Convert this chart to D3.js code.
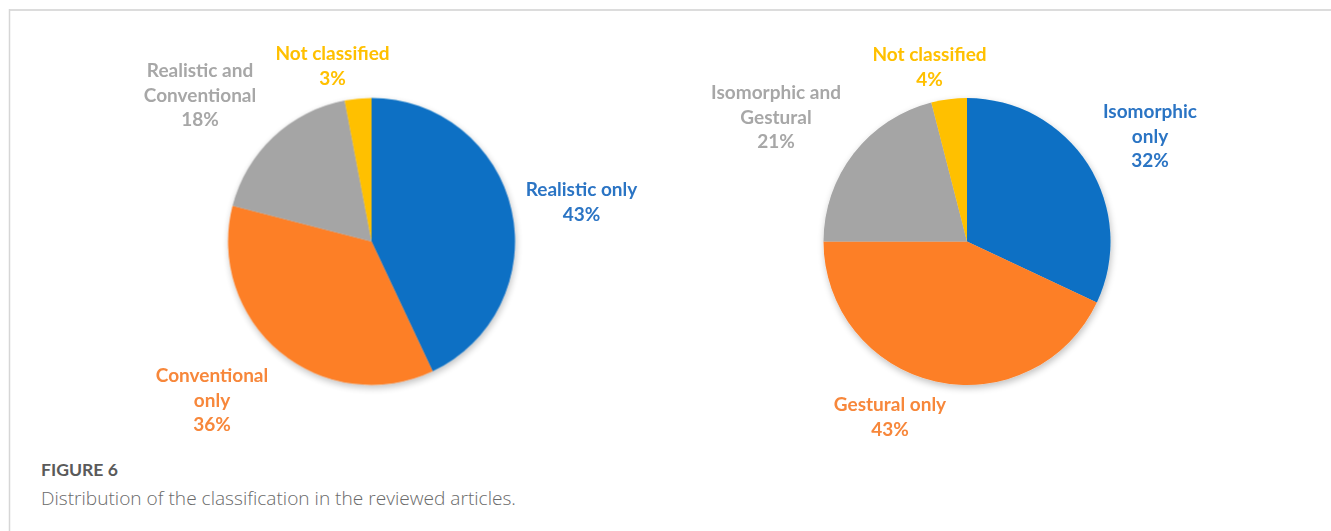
<!DOCTYPE html>
<html>
<head>
<meta charset="utf-8">
<script src="https://cdn.jsdelivr.net/npm/d3@7"></script>
<style>
  html, body { margin: 0; padding: 0; background: #ffffff; }
  svg { display: block; }
</style>
</head>
<body>
<svg id="chart" width="1331" height="531"></svg>
<script>
// Left pie: kinds of representation
const leftCategories = ["Realistic only", "Conventional only", "Realistic and Conventional", "Not classified"];
const leftValues = [43, 36, 18, 3];
const leftLabelLines = [["Realistic only"], ["Conventional", "only"], ["Realistic and", "Conventional"], ["Not classified"]];

// Right pie: kinds of interaction
const rightCategories = ["Isomorphic only", "Gestural only", "Isomorphic and Gestural", "Not classified"];
const rightValues = [32, 43, 21, 4];
const rightLabelLines = [["Isomorphic", "only"], ["Gestural only"], ["Isomorphic and", "Gestural"], ["Not classified"]];

const captionTitle = "FIGURE 6";
const captionText = "Distribution of the classification in the reviewed articles.";

// ---- styling / layout ----
const sliceColors = ["#0A70C4", "#FD7F27", "#A5A5A5", "#FFC000"];
const labelColors = ["#2C74C4", "#F7873A", "#A7A7A7", "#FFC000"];
const radius = 143.5;
const lineHeight = 24.5;
// label anchor (centre x, first baseline y) relative to each pie centre
const leftLabelOffsets = [[210, -45.5], [-159.5, 140.5], [-171.5, -164.5], [-39, -181.5]];
const rightLabelOffsets = [[183, -123.5], [-77, 169.5], [-191, -142.5], [-37.5, -180.5]];

const svg = d3.select("#chart");
const defs = svg.append("defs");

const shadow = defs.append("filter").attr("id", "pieShadow")
  .attr("x", "-20%").attr("y", "-20%").attr("width", "140%").attr("height", "140%");
shadow.append("feGaussianBlur").attr("in", "SourceAlpha").attr("stdDeviation", 3.5).attr("result", "b");
shadow.append("feOffset").attr("in", "b").attr("dx", 1).attr("dy", 3).attr("result", "o");
shadow.append("feComponentTransfer").attr("in", "o").attr("result", "s")
  .append("feFuncA").attr("type", "linear").attr("slope", 0.25);
const merge = shadow.append("feMerge");
merge.append("feMergeNode").attr("in", "s");
merge.append("feMergeNode").attr("in", "SourceGraphic");

const soft = defs.append("filter").attr("id", "soft");
soft.append("feGaussianBlur").attr("stdDeviation", 0.45);

// frame lines
svg.append("line").attr("x1", 9).attr("x2", 1331).attr("y1", 10).attr("y2", 10)
  .attr("stroke", "#dcdcdc").attr("stroke-width", 2);
svg.append("line").attr("x1", 9.5).attr("x2", 9.5).attr("y1", 9).attr("y2", 531)
  .attr("stroke", "#d6d6d6").attr("stroke-width", 1.5);

const pie = d3.pie().sort(null).value(d => d.value).startAngle(0).endAngle(2 * Math.PI);
const arc = d3.arc().innerRadius(0).outerRadius(radius);

function drawPie(cx, cy, categories, values, labelLines, offsets) {
  const data = categories.map((c, i) => ({ category: c, value: values[i], lines: labelLines[i], i }));
  const g = svg.append("g").attr("transform", `translate(${cx},${cy})`).attr("filter", "url(#soft)");

  g.append("g").attr("filter", "url(#pieShadow)")
    .selectAll("path")
    .data(pie(data))
    .join("path")
    .attr("d", arc)
    .attr("fill", d => sliceColors[d.data.i]);

  const labels = g.selectAll("text.lbl")
    .data(data)
    .join("text")
    .attr("class", "lbl")
    .attr("text-anchor", "middle")
    .attr("font-family", "Lato, 'Open Sans', sans-serif")
    .attr("font-weight", 700)
    .attr("font-size", 19)
    .attr("fill", d => labelColors[d.i])
    .attr("transform", d => `translate(${offsets[d.i][0]},${offsets[d.i][1]})`);

  labels.each(function (d) {
    const t = d3.select(this);
    const all = d.lines.concat([`${d.value}%`]);
    all.forEach((line, k) => {
      t.append("tspan").attr("x", 0).attr("y", k * lineHeight).text(line);
    });
  });
}

drawPie(371.5, 241.5, leftCategories, leftValues, leftLabelLines, leftLabelOffsets);
drawPie(967, 241.5, rightCategories, rightValues, rightLabelLines, rightLabelOffsets);

// caption
svg.append("text").attr("x", 41).attr("y", 476)
  .attr("font-family", "Lato, 'Open Sans', sans-serif").attr("font-weight", 700)
  .attr("font-size", 17.6).attr("fill", "#5a5a5a").text(captionTitle);
svg.append("text").attr("x", 41).attr("y", 505)
  .attr("font-family", "'Open Sans', sans-serif").attr("font-weight", 300)
  .attr("font-size", 19.1).attr("fill", "#6a6a6a").text(captionText);
</script>
</body>
</html>
